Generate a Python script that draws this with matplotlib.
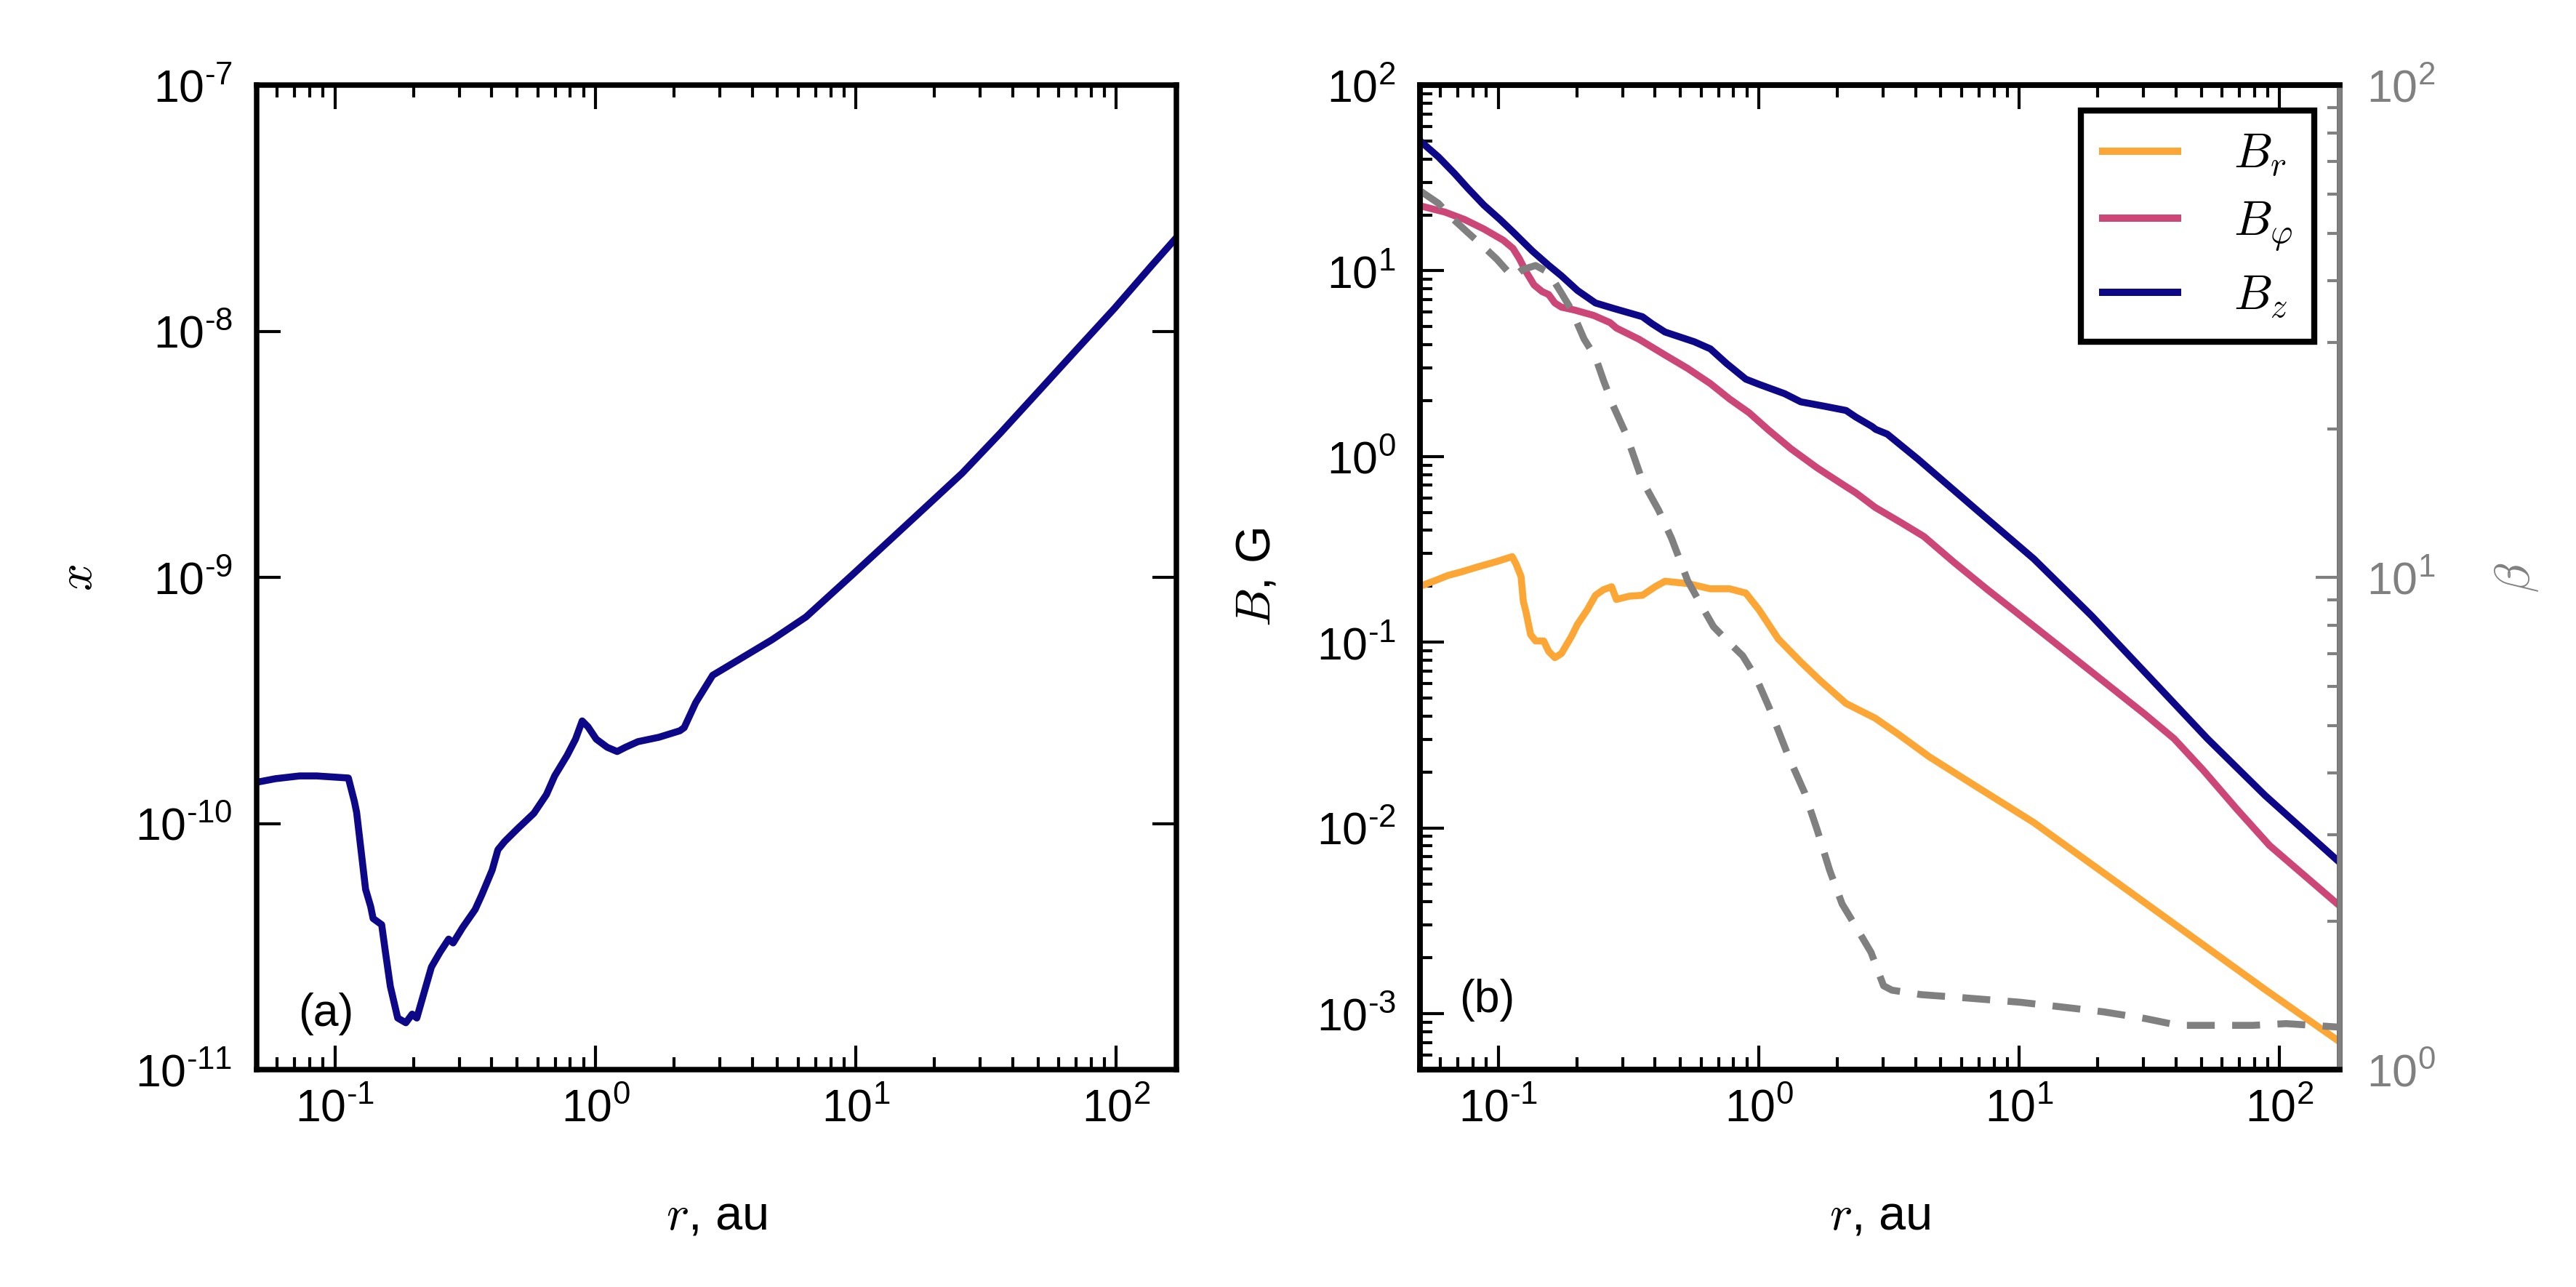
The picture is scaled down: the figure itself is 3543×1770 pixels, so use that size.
import numpy as np
import matplotlib
matplotlib.use('Agg')
import matplotlib.pyplot as plt
from matplotlib.ticker import LogLocator, NullLocator, FuncFormatter

plt.rcParams['font.family'] = ['Liberation Sans', 'DejaVu Sans']
plt.rcParams['mathtext.fontset'] = 'custom'
plt.rcParams['mathtext.rm'] = 'Liberation Sans'
plt.rcParams['mathtext.it'] = 'Liberation Sans:italic'
plt.rcParams['mathtext.bf'] = 'Liberation Sans:bold'

# ---------------- data ----------------
# panel (a): ionisation fraction x vs r
r_a = [0.05, 0.059, 0.073, 0.085, 0.1125, 0.1186, 0.121, 0.131, 0.137, 0.140, 0.151,
       0.156, 0.163, 0.174, 0.187, 0.1977, 0.206, 0.2344, 0.253, 0.273, 0.284, 0.309,
       0.345, 0.366, 0.401, 0.422, 0.448, 0.500, 0.580, 0.648, 0.697, 0.778, 0.838,
       0.889, 0.936, 1.007, 1.109, 1.211, 1.304, 1.456, 1.752, 2.108, 2.19, 2.427,
       2.818, 3.396, 4.753, 6.427, 9.638, 13.03, 18.28, 25.59, 35.81, 50.12, 70.15,
       98.40, 137.7, 170]
x_a = [1.47e-10, 1.52e-10, 1.56e-10, 1.56e-10, 1.53e-10, 1.23e-10, 1.11e-10, 5.40e-11,
       4.60e-11, 4.11e-11, 3.88e-11, 3.02e-11, 2.18e-11, 1.62e-11, 1.55e-11, 1.68e-11,
       1.62e-11, 2.61e-11, 3.00e-11, 3.39e-11, 3.27e-11, 3.78e-11, 4.47e-11, 5.13e-11,
       6.46e-11, 7.82e-11, 8.45e-11, 9.48e-11, 1.10e-10, 1.31e-10, 1.56e-10, 1.89e-10,
       2.20e-10, 2.61e-10, 2.47e-10, 2.20e-10, 2.04e-10, 1.96e-10, 2.04e-10, 2.15e-10,
       2.24e-10, 2.38e-10, 2.45e-10, 3.10e-10, 4.00e-10, 4.50e-10, 5.57e-10, 6.90e-10,
       1.019e-9, 1.368e-9, 1.905e-9, 2.65e-9, 3.85e-9, 5.68e-9, 8.39e-9, 1.239e-8,
       1.866e-8, 2.40e-8]

# panel (b): magnetic field components
r_bz = [0.050, 0.0589, 0.0679, 0.0762, 0.0879, 0.1014, 0.1138, 0.1349, 0.1560, 0.1746,
        0.2014, 0.2360, 0.2761, 0.3573, 0.3890, 0.4365, 0.4887, 0.5649, 0.6516, 0.7516,
        0.8913, 1.000, 1.256, 1.449, 1.770, 2.163, 2.360, 2.723, 2.812, 3.112, 4.083,
        6.808, 11.38, 18.97, 31.62, 52.72, 87.90, 168.0]
b_z = [50.1, 41.0, 33.4, 27.9, 22.6, 18.9, 16.2, 12.8, 10.7, 9.40, 7.83, 6.71, 6.28,
       5.66, 5.19, 4.68, 4.44, 4.15, 3.80, 3.17, 2.61, 2.45, 2.18, 1.97, 1.87, 1.77,
       1.63, 1.45, 1.40, 1.321, 0.968, 0.521, 0.281, 0.1387, 0.0649, 0.0303, 0.01496,
       0.00662]

r_bphi = [0.050, 0.0624, 0.0741, 0.0879, 0.1045, 0.1138, 0.1205, 0.1276, 0.1371, 0.1472,
          0.1560, 0.1648, 0.1746, 0.1959, 0.2323, 0.2685, 0.2838, 0.3467, 0.4365, 0.5333,
          0.6516, 0.7727, 0.9183, 1.089, 1.330, 1.675, 2.104, 2.360, 2.799, 3.524, 4.305,
          5.623, 7.551, 10.12, 14.62, 21.09, 30.41, 39.36, 50.82, 68.23, 91.41, 168.0]
b_phi = [22.4, 20.7, 18.9, 16.8, 14.6, 13.2, 11.6, 9.91, 8.39, 7.73, 7.45, 6.71, 6.37,
         6.15, 5.75, 5.26, 4.92, 4.28, 3.52, 2.98, 2.47, 2.04, 1.72, 1.39, 1.10, 0.869,
         0.706, 0.637, 0.532, 0.440, 0.371, 0.269, 0.192, 0.139, 0.0925, 0.0615, 0.0409,
         0.0302, 0.0205, 0.0127, 0.00805, 0.00386]

r_br = [0.050, 0.0573, 0.0641, 0.0719, 0.0830, 0.0986, 0.1130, 0.1169, 0.1222, 0.1247,
        0.1276, 0.1330, 0.1390, 0.1493, 0.1560, 0.1648, 0.1746, 0.1905, 0.2014, 0.2198,
        0.2360, 0.2535, 0.2723, 0.2838, 0.3184, 0.3573, 0.3999, 0.4365, 0.5333, 0.6516,
        0.7727, 0.8913, 1.000, 1.189, 1.449, 1.722, 2.163, 2.799, 3.420, 4.508, 6.808,
        11.38, 31.62, 87.90, 168.0]
b_r = [0.200, 0.215, 0.229, 0.239, 0.254, 0.272, 0.289, 0.264, 0.226, 0.166, 0.146,
       0.110, 0.1016, 0.1016, 0.0893, 0.0826, 0.0869, 0.107, 0.125, 0.150, 0.179, 0.192,
       0.199, 0.170, 0.177, 0.179, 0.199, 0.213, 0.207, 0.194, 0.194, 0.184, 0.150,
       0.104, 0.0783, 0.0621, 0.0468, 0.0390, 0.0321, 0.0242, 0.01679, 0.01069, 0.00380,
       0.001349, 0.000714]

# plasma beta (right axis)
r_beta = [0.050, 0.0589, 0.0661, 0.0762, 0.0879, 0.0986, 0.1138, 0.1239, 0.1390, 0.1560,
          0.1746, 0.1905, 0.2133, 0.2360, 0.2535, 0.2761, 0.3097, 0.3573, 0.4121, 0.4624,
          0.5333, 0.6152, 0.6699, 0.7727, 0.8670, 0.9727, 1.089, 1.189, 1.297, 1.500,
          1.675, 1.871, 2.089, 2.333, 2.698, 3.013, 3.243, 4.198, 6.053, 10.12, 14.62,
          21.09, 30.41, 40.83, 54.70, 79.07, 105.9, 168.0]
beta = [61.0, 57.5, 53.8, 50.2, 46.9, 44.3, 40.7, 42.2, 43.0, 41.6, 37.8, 35.0, 30.5,
        28.0, 25.1, 22.3, 19.5, 15.7, 13.7, 12.0, 9.84, 8.59, 7.94, 7.35, 6.93, 6.28,
        5.48, 4.88, 4.34, 3.65, 3.07, 2.54, 2.17, 1.97, 1.73, 1.48, 1.45, 1.42, 1.40,
        1.37, 1.34, 1.31, 1.27, 1.23, 1.23, 1.23, 1.24, 1.22]

labels_b = [r'$B_r$', r'$B_\varphi$', r'$B_z$']
colors_b = ['#FCA636', '#CC4778', '#0D0887']

# ---------------- figure ----------------
fig = plt.figure(figsize=(3543 / 300, 1770 / 300), dpi=300)
W, H = 3543, 1770
ax1 = fig.add_axes([353 / W, 1 - 1471 / H, 1265 / W, 1354 / H])
ax2 = fig.add_axes([1953 / W, 1 - 1471 / H, 1265 / W, 1354 / H])

LW = 2.3
SPW = 1.8
TS = 15
LS = 16


def logfmt(v, pos):
    if v <= 0:
        return ''
    e = int(np.round(np.log10(v)))
    if abs(v - 10.0 ** e) > 1e-6 * 10.0 ** e:
        return ''
    if e < 0:
        return r'$10^{\text{-}%d}$' % (-e)
    return r'$10^{%d}$' % e


minor_subs = [2, 3, 4, 5, 6, 7, 8, 9]

for ax in (ax1, ax2):
    ax.set_xscale('log')
    ax.set_yscale('log')
    ax.set_xlim(0.05, 170)
    for s in ax.spines.values():
        s.set_linewidth(SPW)
    ax.xaxis.set_major_locator(LogLocator(base=10, numticks=20))
    ax.xaxis.set_minor_locator(LogLocator(base=10, subs=minor_subs, numticks=50))
    ax.xaxis.set_major_formatter(FuncFormatter(logfmt))
    ax.yaxis.set_major_formatter(FuncFormatter(logfmt))
    ax.tick_params(axis='both', which='both', direction='in', labelsize=TS, width=1.0)
    ax.tick_params(axis='both', which='major', length=8)
    ax.tick_params(axis='both', which='minor', length=4)
    ax.tick_params(axis='x', which='both', pad=6, top=True)
    ax.tick_params(axis='y', which='both', pad=8)

# panel (a)
ax1.plot(r_a, x_a, color='#0D0887', lw=LW)
ax1.set_ylim(1e-11, 1e-7)
ax1.yaxis.set_minor_locator(NullLocator())
ax1.tick_params(axis='y', which='both', right=True)
ax1.set_xlabel(r'$r$, au', fontsize=LS, math_fontfamily='cm', labelpad=21)
ax1.set_ylabel(r'$x$', fontsize=LS, math_fontfamily='cm', labelpad=11)
ax1.text(0.045, 0.044, '(a)', transform=ax1.transAxes, fontsize=TS, ha='left', va='baseline')

# panel (b)
ax2.plot(r_br, b_r, color=colors_b[0], lw=LW, label=labels_b[0])
ax2.plot(r_bphi, b_phi, color=colors_b[1], lw=LW, label=labels_b[1])
ax2.plot(r_bz, b_z, color=colors_b[2], lw=LW, label=labels_b[2])
ax2.set_ylim(5e-4, 1e2)
ax2.yaxis.set_major_locator(LogLocator(base=10, numticks=20))
ax2.yaxis.set_minor_locator(LogLocator(base=10, subs=minor_subs, numticks=50))
ax2.tick_params(axis='y', which='both', right=False)
ax2.set_xlabel(r'$r$, au', fontsize=LS, math_fontfamily='cm', labelpad=21)
ax2.set_ylabel(r'$B$, G', fontsize=LS, math_fontfamily='cm', labelpad=12)
ax2.text(0.043, 0.058, '(b)', transform=ax2.transAxes, fontsize=TS, ha='left', va='baseline')

leg = ax2.legend(loc='upper right', fontsize=LS, frameon=True, fancybox=False,
                 framealpha=1, edgecolor='black', borderaxespad=0.52, borderpad=0.45,
                 handlelength=1.55, handletextpad=1.15, labelspacing=0.43)
leg.get_frame().set_linewidth(2.0)
for t in leg.get_texts():
    t.set_math_fontfamily('cm')
for h in leg.legend_handles:
    h.set_linewidth(2.4)

axb = ax2.twinx()
axb.set_yscale('log')
axb.set_ylim(1, 100)
axb.plot(r_beta, beta, color='0.5', lw=LW, ls='--', dashes=(4, 2.5))
axb.set_xlim(0.05, 170)
for s in axb.spines.values():
    s.set_linewidth(SPW)
axb.spines['right'].set_color('0.5')
axb.yaxis.set_major_formatter(FuncFormatter(logfmt))
axb.yaxis.set_major_locator(LogLocator(base=10, numticks=20))
axb.yaxis.set_minor_locator(LogLocator(base=10, subs=minor_subs, numticks=50))
axb.tick_params(axis='y', which='both', direction='in', colors='0.5', labelsize=TS,
                width=1.0, pad=9)
axb.tick_params(axis='y', which='major', length=8)
axb.tick_params(axis='y', which='minor', length=4)
axb.set_ylabel(r'$\beta$', fontsize=LS, color='0.5', math_fontfamily='cm', labelpad=19)

fig.savefig('out.png', dpi=300)
